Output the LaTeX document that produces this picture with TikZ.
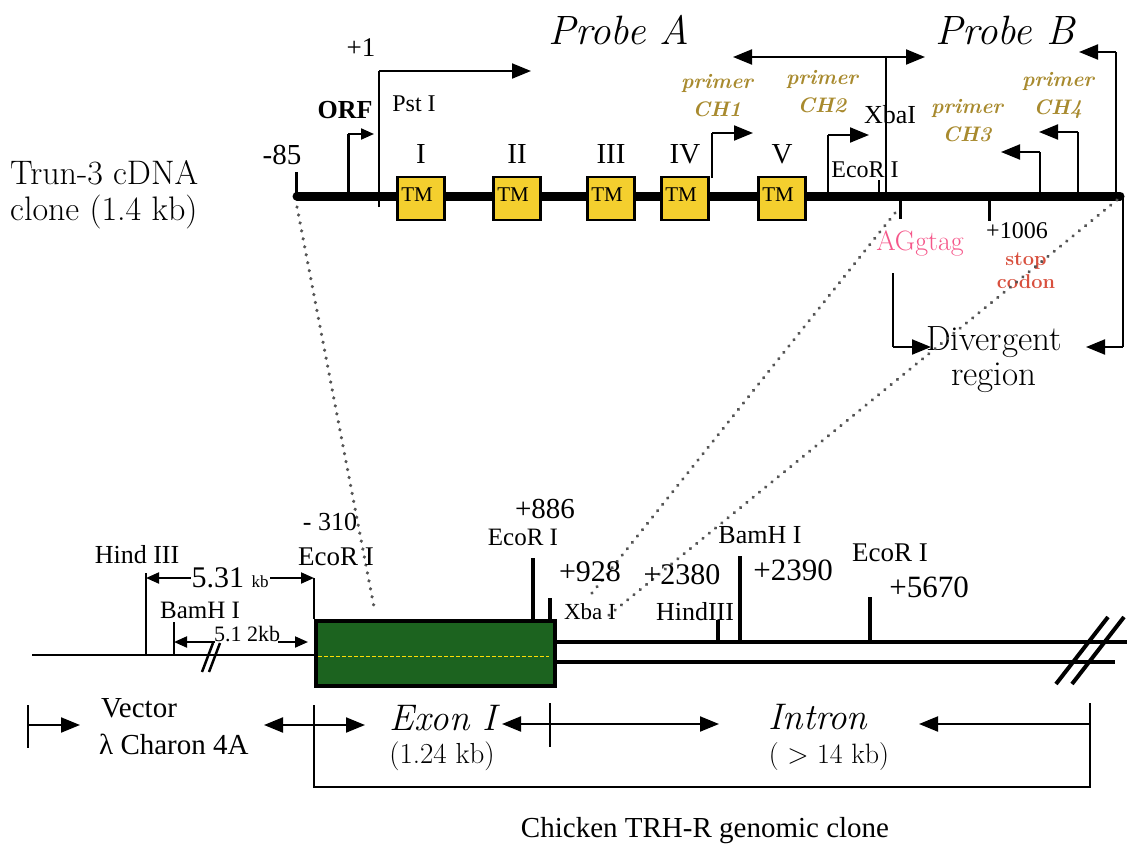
\documentclass[tikz,border=0pt]{standalone}
\usepackage{fontspec}
\newfontfamily\tms{Liberation Serif}
\usetikzlibrary{arrows.meta}
\definecolor{tmyellow}{HTML}{F4CF2E}
\definecolor{exgreen}{HTML}{1C631F}
\definecolor{primercol}{HTML}{A88A2E}
\definecolor{agpink}{HTML}{F5578A}
\definecolor{stopred}{HTML}{D8503E}
\definecolor{dotgray}{HTML}{555555}
\newcommand{\fsz}[2]{\fontsize{#1}{#2}\selectfont}
\tikzset{
 lab/.style={inner sep=0pt, font=\tms},
 tip/.tip={Triangle[length=19pt,width=15pt]},
 stip/.tip={Triangle[length=13pt,width=11pt]},
 arr/.style={line width=2pt, -tip},
 sarr/.style={line width=2pt, -stip},
 dsarr/.style={line width=2pt, stip-stip},
 darr/.style={line width=2pt, tip-tip},
 tmbox/.style={draw=black, line width=2.5pt, fill=tmyellow, minimum width=47pt, minimum height=43pt, inner sep=0pt},
 site/.style={line width=4pt},
 thin/.style={line width=2pt},
 dots/.style={line width=3.5pt, dotgray, dash pattern=on 0.1pt off 8pt, line cap=round},
 primer/.style={inner sep=0pt, text=primercol, font=\bfseries\itshape\fsz{21}{28}, align=center},
 tmlab/.style={inner sep=0pt, font=\tms\fsz{21}{21}}
}
\begin{document}
\begin{tikzpicture}[x=1pt,y=-1pt]
\useasboundingbox (0,0) rectangle (1127,846);

% ---------------- cDNA clone (top) ----------------
\node[inner sep=0pt, align=left, font=\fsz{34}{36}, anchor=west] (trun) at (10,195) {Trun-3 cDNA\\clone (1.4 kb)};

\coordinate (L0) at (297,196);
\coordinate (L1) at (1120,196);
\draw[line width=9pt, line cap=round] (L0) -- (L1);
\draw[line width=3pt] (296,172) -- (296,200);
\node[lab, font=\tms\fsz{29}{29}] (m85) at (282,155) {-85};

% ORF
\coordinate (orf0) at (348,196);
\draw[line width=3pt] (orf0) -- (348,134) coordinate (orf1);
\draw[sarr] (orf1) -- (374,134);
\node[lab, font=\tms\bfseries\fsz{26}{26}] (orf) at (345,110) {ORF};

% +1 / Probe A start
\coordinate (p1) at (379,207);
\draw[thin] (p1) -- (379,71) coordinate (p1t);
\draw[arr] (p1t) -- (531,71);
\node[lab, font=\tms\fsz{27}{27}] (plus1) at (361,48) {+1};
\node[lab, font=\tms\fsz{24}{24}] (pst) at (414,104) {Pst I};

% TM boxes
\foreach \x/\r/\n in {421/I/a, 517/II/b, 611/III/c, 685/IV/d, 782/V/e}{
  \node[tmbox] (tm\n) at (\x,198.5) {};
  \node[tmlab] at ([xshift=-4pt,yshift=4pt]tm\n.center) {TM};
  \node[lab, font=\tms\fsz{29}{29}] at ([yshift=22pt]tm\n.north) {\r};
}

\node[inner sep=0pt, font=\itshape\fsz{41}{41}] (probeA) at (619,30) {Probe A};
\node[inner sep=0pt, font=\itshape\fsz{41}{41}] (probeB) at (1005,30) {Probe B};

% Probe A double arrow and XbaI
\draw[darr] (733,57) -- (925,57);
\draw[thin] (886,57) -- (886,196);
\node[lab, font=\tms\fsz{26}{26}] (xba) at (890,115) {XbaI};

% EcoR I site
\draw[line width=1.5pt] (879,180) -- (879,196);
\node[lab, font=\tms\fsz{24}{24}] (eco) at (865,170) {EcoR I};

% Probe B arrow
\draw[thin] (1116,196) -- (1116,52) coordinate (pbt);
\draw[arr] (pbt) -- (1079,52);

% primers
\draw[thin] (712,178) -- (712,133) coordinate (c1);
\draw[arr] (c1) -- (753,133);
\draw[thin] (828,196) -- (828,135) coordinate (c2);
\draw[arr] (c2) -- (869,135);
\draw[thin] (1040,196) -- (1040,152) coordinate (c3);
\draw[arr] (c3) -- (1001,152);
\draw[thin] (1078,196) -- (1078,132) coordinate (c4);
\draw[arr] (c4) -- (1039,132);

\node[primer] (pr1) at (717,96) {primer\\CH1};
\node[primer] (pr2) at (822,92) {primer\\CH2};
\node[primer] (pr3) at (967,121) {primer\\CH3};
\node[primer] (pr4) at (1058,95) {primer\\CH4};

% ticks below line
\draw[line width=3pt] (900,196) -- (900,219);
\draw[line width=3pt] (989,196) -- (989,221);
\node[lab, font=\tms\fsz{24}{24}] (p1006) at (1017,231) {+1006};
\node[inner sep=0pt, text=agpink, font=\fsz{28}{28}] (ag) at (920,243) {AGgtag};
\node[inner sep=0pt, text=stopred, font=\bfseries\fsz{20}{23}, align=center] (stop) at (1026,271) {stop\\codon};

% divergent region
\draw[thin] (893,273) -- (893,347) coordinate (dv1);
\draw[arr] (dv1) -- (931,347);
\draw[thin] (1123,198) -- (1123,347) coordinate (dv2);
\draw[arr] (dv2) -- (1086,347);
\node[inner sep=0pt, font=\fsz{35}{35}, align=center] (div) at (994,360) {Divergent\\region};

% dotted projection lines
\draw[dots] (297,207) -- (374,607);
\draw[dots] (895,213) -- (588,598);
\draw[dots] (1117,200) -- (603,620);

% ---------------- genomic clone (bottom) ----------------
\draw[line width=2.5pt] (32,655) -- (314,655);
\draw[line width=2.5pt] (202,672) -- (213,643);
\draw[line width=2.5pt] (209,672) -- (220,643);

\draw[thin] (146,573) -- (146,655);
\node[lab, font=\tms\fsz{26}{26}] (hind3) at (137,555) {Hind III};
\draw[thin] (174,622) -- (174,655);
\node[lab, font=\tms\fsz{25}{25}] (bam1) at (200,610) {BamH I};

\draw[thin] (314,578) -- (314,619);
\draw[dsarr] (146,578) -- (314,578) node[midway, fill=white, inner sep=1pt, font=\tms] {\fsz{30}{30}5.31 {\fsz{17}{17}kb}};
\draw[sarr] (215,642) -- (174,642);
\draw[sarr] (278,642) -- (308,642);
\node[lab, font=\tms\fsz{22}{22}] (k512) at (247,634) {5.1 2kb};

% exon box
\node[draw=black, line width=4pt, fill=exgreen, minimum width=239pt, minimum height=65pt, inner sep=0pt, anchor=north west] (exon) at (314,619) {};
\draw[yellow!80!orange, line width=1pt, dash pattern=on 4pt off 2pt] (318,656) -- (549,656);

% double line
\draw[line width=4pt] (553,642) -- (1127,642);
\draw[line width=4pt] (553,662) -- (1115,662);
\draw[line width=4pt] (1056,684) -- (1108,617);
\draw[line width=4pt] (1072,684) -- (1124,617);

% sites
\draw[site] (533,558) -- (533,619);
\draw[site] (550,598) -- (550,619);
\draw[site] (718,620) -- (718,642);
\draw[site] (740,556) -- (740,642);
\draw[site] (870,597) -- (870,642);

\node[lab, font=\tms\fsz{26}{26}] (m310) at (330,522) {- 310};
\node[lab, font=\tms\fsz{27}{27}] (eco1) at (336,557) {EcoR I};
\node[lab, font=\tms\fsz{29}{29}] (p886) at (545,509) {+886};
\node[lab, font=\tms\fsz{25}{25}] (eco2) at (523,537) {EcoR I};
\node[lab, font=\tms\fsz{30}{30}] (p928) at (590,572) {+928};
\node[lab, font=\tms\fsz{23}{23}] (xba2) at (590,612) {Xba I};
\node[lab, font=\tms\fsz{30}{30}] (p2380) at (682,575) {+2380};
\node[lab, font=\tms\fsz{26}{26}] (hind2) at (695,612) {HindIII};
\node[lab, font=\tms\fsz{26}{26}] (bam2) at (760,535) {BamH I};
\node[lab, font=\tms\fsz{31}{31}] (p2390) at (793,570) {+2390};
\node[lab, font=\tms\fsz{27}{27}] (eco3) at (890,553) {EcoR I};
\node[lab, font=\tms\fsz{31}{31}] (p5670) at (929,587) {+5670};

% bottom annotation
\draw[thin] (28,705) -- (28,748);
\draw[arr] (28,725) -- (80,725);
\node[lab, font=\tms\fsz{29}{29}, anchor=west] (vec) at (101,708) {Vector};
\node[lab, font=\tms\fsz{29}{29}, anchor=west] (charon) at (99,744) {λ Charon 4A};

\draw[thin] (314,705) -- (314,787);
\draw[arr] (314,725) -- (264,725);
\draw[arr] (314,725) -- (365,725);
\node[inner sep=0pt, font=\itshape\fsz{37}{37}] (exI) at (443,718) {Exon I};
\node[inner sep=0pt, font=\fsz{29}{29}] (exkb) at (442,756) {(1.24 kb)};

\draw[thin] (550,703) -- (550,747);
\draw[arr] (550,724) -- (502,724);
\draw[arr] (550,724) -- (719,724);
\node[inner sep=0pt, font=\itshape\fsz{37}{37}] (intr) at (818,717) {Intron};
\node[inner sep=0pt, font=\fsz{28}{28}] (inkb) at (829,757) {( > 14 kb)};

\draw[thin] (1090,703) -- (1090,787);
\draw[arr] (1090,724) -- (919,724);
\draw[line width=2.5pt] (313,787) -- (1091,787);

\node[lab, font=\tms\fsz{29}{29}] (cap) at (705,831) {Chicken TRH-R genomic clone};
\end{tikzpicture}
\end{document}
